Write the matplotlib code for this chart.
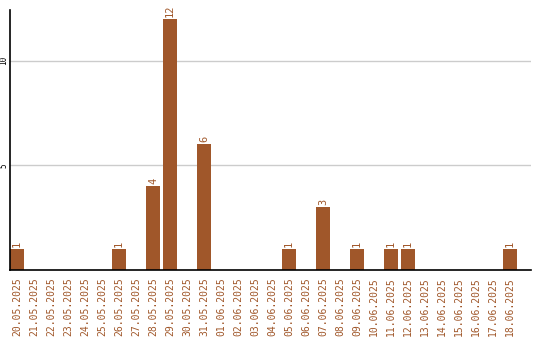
import matplotlib
matplotlib.use("Agg")
import matplotlib.pyplot as plt

dates = ["20.05.2025", "21.05.2025", "22.05.2025", "23.05.2025", "24.05.2025",
         "25.05.2025", "26.05.2025", "27.05.2025", "28.05.2025", "29.05.2025",
         "30.05.2025", "31.05.2025", "01.06.2025", "02.06.2025", "03.06.2025",
         "04.06.2025", "05.06.2025", "06.06.2025", "07.06.2025", "08.06.2025",
         "09.06.2025", "10.06.2025", "11.06.2025", "12.06.2025", "13.06.2025",
         "14.06.2025", "15.06.2025", "16.06.2025", "17.06.2025", "18.06.2025"]
counts = [1, 0, 0, 0, 0, 0, 1, 0, 4, 12, 0, 6, 0, 0, 0,
          0, 1, 0, 3, 0, 1, 0, 1, 1, 0, 0, 0, 0, 0, 1]
yticks = [5, 10]

color = "#A0572A"
mono = "DejaVu Sans Mono"

fig = plt.figure(figsize=(5.4, 3.4), dpi=100)
ax = fig.add_axes([10/540, 1 - 270/340, 521/540, 260/340])

x = list(range(len(dates)))
bars = ax.bar(x, counts, width=0.82, color=color, zorder=2)
for xi, v in zip(x, counts):
    if v > 0:
        ax.text(xi, v + 0.1, str(v), rotation=90, ha="center", va="bottom",
                color=color, fontsize=7.5, family=mono)

ax.set_xlim(-0.41, 30.24)
ax.set_ylim(0, 12.42)
ax.set_xticks(x)
ax.set_xticklabels(dates, rotation=90, color=color, fontsize=7, family=mono)
ax.set_yticks(yticks)
ax.set_yticklabels([str(t) for t in yticks], rotation=90, fontsize=5.5,
                   family=mono, va="center")
ax.tick_params(axis="both", length=0)
ax.tick_params(axis="y", pad=1)
ax.tick_params(axis="x", pad=5)
ax.yaxis.grid(True, color="#cccccc", linewidth=1, zorder=0)
ax.set_axisbelow(True)
for s in ["top", "right"]:
    ax.spines[s].set_visible(False)
for s in ["left", "bottom"]:
    ax.spines[s].set_color("black")
    ax.spines[s].set_linewidth(1.2)
    ax.spines[s].set_zorder(3)

fig.savefig("out.png", dpi=100)
